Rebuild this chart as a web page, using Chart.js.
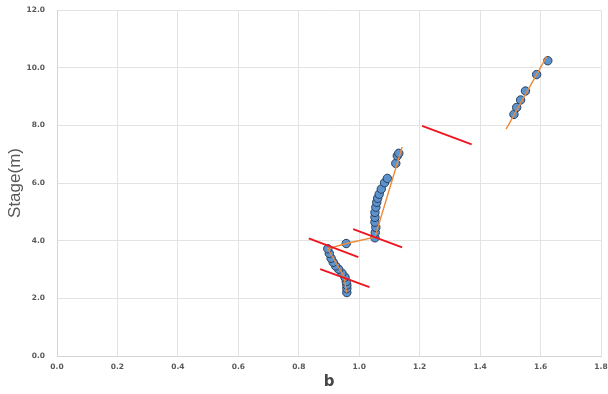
<!DOCTYPE html>
<html><head><meta charset="utf-8">
<script src="https://cdn.jsdelivr.net/npm/chart.js@4"></script>
<style>html,body{margin:0;padding:0;background:#fff}#wrap{width:608px;height:394px}</style>
</head><body><div id="wrap"><canvas id="c" width="608" height="394"></canvas></div>
<script>
const obsB = [0.959,0.959,0.959,0.957,0.953,0.943,0.932,0.922,0.914,0.907,0.901,0.896,
  0.957,
  1.052,1.053,1.055,1.052,1.052,1.052,1.055,1.058,1.061,1.066,1.073,1.084,1.093,1.121,1.126,1.131,
  1.512,1.521,1.534,1.550,1.587,1.624];
const obsStage = [2.20,2.34,2.46,2.58,2.73,2.87,3.01,3.12,3.25,3.39,3.56,3.72,
  3.90,
  4.10,4.28,4.46,4.64,4.81,4.98,5.16,5.33,5.47,5.61,5.79,6.01,6.16,6.68,6.94,7.03,
  8.38,8.62,8.88,9.19,9.76,10.24];
const fitB = [0.958,0.950,0.896,0.957,1.052,1.142,null,1.486,1.620];
const fitStage = [2.20,2.75,3.72,3.90,4.12,7.25,null,7.87,10.38];
const breakB = [0.871,1.034,null,0.833,0.997,null,0.980,1.142,null,1.208,1.372];
const breakStage = [3.01,2.39,null,4.08,3.43,null,4.40,3.77,null,7.98,7.34];
const xTicks = [0,0.2,0.4,0.6,0.8,1.0,1.2,1.4,1.6,1.8];
const yTicks = [0,2,4,6,8,10,12];

function pts(xs, ys){ return xs.map((x,i)=> x===null ? {x:null,y:null} : {x:x,y:ys[i]}); }

const tickFont = {family:'"DejaVu Sans"', size:7.5, weight:'bold'};
new Chart(document.getElementById('c'), {
  type:'scatter',
  data:{datasets:[
    {label:'break', data:pts(breakB,breakStage), showLine:true, spanGaps:false, borderColor:'#f0141e', borderWidth:1.8, pointRadius:0, order:0},
    {label:'fit', data:pts(fitB,fitStage), showLine:true, spanGaps:false, borderColor:'#ed8a3a', borderWidth:1.4, pointRadius:0, order:1},
    {label:'obs', data:pts(obsB,obsStage), backgroundColor:'#5b93cf', borderColor:'#2b3f5a', borderWidth:1, pointRadius:4.2, order:2}
  ]},
  options:{
    responsive:false, animation:false, devicePixelRatio:1,
    layout:{padding:{top:10,right:7,left:0,bottom:0}},
    plugins:{legend:{display:false}, tooltip:{enabled:false}},
    scales:{
      x:{type:'linear', min:0, max:1.8,
        afterBuildTicks:(s)=>{s.ticks = xTicks.map(v=>({value:v}));},
        afterFit:(s)=>{s.height = 38; s.paddingLeft = 0; s.paddingRight = 0;},
        ticks:{autoSkip:false, maxRotation:0, padding:7, color:'#595959', font:tickFont, callback:(v)=>Number(v).toFixed(1)},
        grid:{color:'#e3e3e3', drawTicks:false},
        border:{color:'#d4d4d4'},
        title:{display:true, text:'b', color:'#474747', font:{family:'"DejaVu Sans"', size:15, weight:'bold'}, padding:{top:0,bottom:3}}
      },
      y:{type:'linear', min:0, max:12,
        afterBuildTicks:(s)=>{s.ticks = yTicks.map(v=>({value:v}));},
        afterFit:(s)=>{s.width = 57; s.paddingTop = 0; s.paddingBottom = 0;},
        ticks:{padding:12, color:'#595959', font:tickFont, callback:(v)=>Number(v).toFixed(1)},
        grid:{color:'#e3e3e3', drawTicks:false},
        border:{color:'#d4d4d4'},
        title:{display:true, text:'Stage(m)', color:'#595959', font:{family:'"Liberation Sans"', size:17}, padding:{top:5,bottom:0}}
      }
    }
  }
});
</script></body></html>
